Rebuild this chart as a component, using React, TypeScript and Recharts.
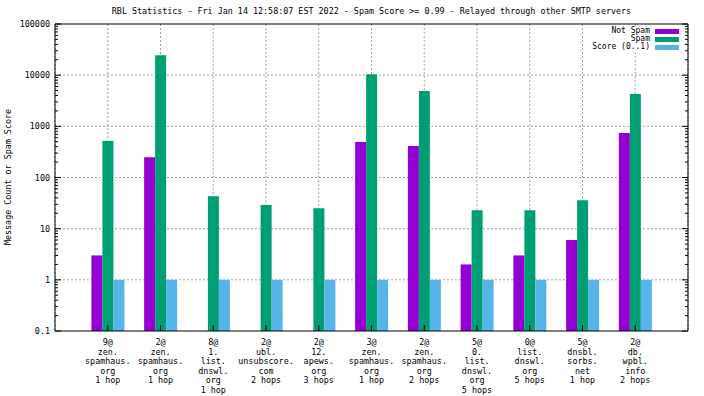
import { Bar, BarChart, CartesianGrid, ReferenceLine, XAxis, YAxis } from "recharts";

const CATEGORIES = [
  ["9@", "zen.", "spamhaus.", "org", "1 hop"],
  ["2@", "zen.", "spamhaus.", "org", "1 hop"],
  ["8@", "1.", "list.", "dnswl.", "org", "1 hop"],
  ["2@", "ubl.", "unsubscore.", "com", "2 hops"],
  ["2@", "12.", "apews.", "org", "3 hops"],
  ["3@", "zen.", "spamhaus.", "org", "1 hop"],
  ["2@", "zen.", "spamhaus.", "org", "2 hops"],
  ["5@", "0.", "list.", "dnswl.", "org", "5 hops"],
  ["0@", "list.", "dnswl.", "org", "5 hops"],
  ["5@", "dnsbl.", "sorbs.", "net", "1 hop"],
  ["2@", "db.", "wpbl.", "info", "2 hops"],
];

const NOT_SPAM = [3, 250, null, null, null, 492, 414, 2, 3, 6, 743];
const SPAM = [515, 24500, 43, 29, 25, 10400, 4900, 23, 23, 36, 4290];
const SCORE = [1, 1, 1, 1, 1, 1, 1, 1, 1, 1, 1];

const MAJOR_TICKS = [0.1, 1, 10, 100, 1000, 10000, 100000];
const MINOR_STEPS = [2, 3, 4, 5, 6, 7, 8, 9];
const ALL_TICKS = [
  ...MAJOR_TICKS,
  ...MAJOR_TICKS.slice(0, -1).flatMap((d) => MINOR_STEPS.map((m) => +(d * m).toPrecision(3))),
].sort((a, b) => a - b);

const SERIES = [
  { key: "notSpam", name: "Not Spam", color: "#9400d3" },
  { key: "spam", name: "Spam", color: "#009e73" },
  { key: "score", name: "Score (0..1)", color: "#56b4e9" },
];

const data = CATEGORIES.map((lines, i) => ({
  label: lines.join("\n"),
  notSpam: NOT_SPAM[i],
  spam: SPAM[i],
  score: SCORE[i],
}));

const FONT = "'DejaVu Sans Mono', monospace";
const FS = 8.4;
const GRID = "#a0a0a0";

function formatTick(v: number) {
  return v < 1 ? String(v) : v.toFixed(0);
}

function LeftTick(props: any) {
  const { x, y, payload } = props;
  const major = MAJOR_TICKS.includes(payload.value);
  return (
    <g>
      <line x1={x} x2={x + (major ? 6 : 3)} y1={y} y2={y} stroke="#000" />
      {major && (
        <text x={x - 5} y={y + 3} textAnchor="end" fontFamily={FONT} fontSize={FS} fill="#000">
          {formatTick(payload.value)}
        </text>
      )}
    </g>
  );
}

function RightTick(props: any) {
  const { x, y, payload } = props;
  const major = MAJOR_TICKS.includes(payload.value);
  return <line x1={x} x2={x - (major ? 6 : 3)} y1={y} y2={y} stroke="#000" />;
}

function BottomTick(props: any) {
  const { x, y, payload } = props;
  const lines = String(payload.value).split("\n");
  return (
    <g>
      <line x1={x} x2={x} y1={y} y2={y - 6} stroke="#000" />
      <text fontFamily={FONT} fontSize={FS} fill="#000" textAnchor="middle">
        {lines.map((line, i) => (
          <tspan key={i} x={x} y={y + 14 + i * 9.5}>
            {line}
          </tspan>
        ))}
      </text>
    </g>
  );
}

export default function App() {
  return (
    <div style={{ position: "absolute", left: 0, top: 0, width: 704, height: 396, background: "#fff" }}>
      <div
        style={{
          position: "absolute",
          left: 55,
          width: 633,
          top: 6,
          textAlign: "center",
          fontFamily: FONT,
          fontSize: FS,
          whiteSpace: "pre",
        }}
      >
        RBL Statistics - Fri Jan 14 12:58:07 EST 2022 - Spam Score &gt;= 0.99 - Relayed through other SMTP servers
      </div>
      <div
        style={{
          position: "absolute",
          left: 8,
          top: 177,
          transform: "translate(-50%, -50%) rotate(-90deg)",
          fontFamily: FONT,
          fontSize: FS,
          whiteSpace: "pre",
        }}
      >
        Message Count or Spam Score
      </div>
      <BarChart
        width={704}
        height={396}
        data={data}
        margin={{ top: 24, right: 0, bottom: 0, left: 0 }}
        barGap={0}
        barSize={11}
      >
        <CartesianGrid
          stroke={GRID}
          strokeDasharray="2 2"
          horizontalValues={[1, 10, 100, 1000, 10000]}
          yAxisId="left"
        />
        <XAxis
          dataKey="label"
          height={65}
          padding={{ left: 26.4, right: 26.4 }}
          tickSize={0}
          tickMargin={0}
          tick={<BottomTick />}
          interval={0}
          axisLine={{ stroke: "#000" }}
        />
        <YAxis
          yAxisId="left"
          scale="log"
          type="number"
          domain={[0.1, 100000]}
          allowDataOverflow
          ticks={ALL_TICKS}
          interval={0}
          width={55}
          tickSize={0}
          tickMargin={0}
          tick={<LeftTick />}
          axisLine={{ stroke: "#000" }}
        />
        <YAxis
          yAxisId="right"
          orientation="right"
          scale="log"
          type="number"
          domain={[0.1, 100000]}
          allowDataOverflow
          ticks={ALL_TICKS}
          interval={0}
          width={16}
          tickSize={0}
          tickMargin={0}
          tick={<RightTick />}
          axisLine={{ stroke: "#000" }}
        />
        <ReferenceLine yAxisId="left" y={100000} stroke="#000" />
        {SERIES.map((s) => (
          <Bar key={s.key} yAxisId="left" dataKey={s.key} name={s.name} fill={s.color} isAnimationActive={false} />
        ))}
      </BarChart>
      <div
        style={{
          position: "absolute",
          right: 25,
          top: 27,
          fontFamily: FONT,
          fontSize: 8,
          lineHeight: "8px",
          background: "#fff",
        }}
      >
        {SERIES.map((s) => (
          <div key={s.key} style={{ display: "flex", justifyContent: "flex-end", alignItems: "center", height: 8 }}>
            <span style={{ whiteSpace: "pre" }}>{s.name}</span>
            <span style={{ display: "inline-block", width: 24, height: 5, background: s.color, marginLeft: 5 }} />
          </div>
        ))}
      </div>
    </div>
  );
}
